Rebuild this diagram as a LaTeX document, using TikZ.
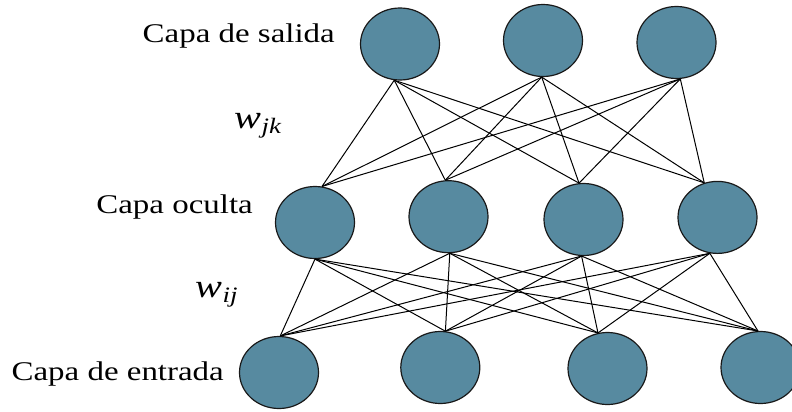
\documentclass[tikz,border=0pt]{standalone}
\usepackage{fontspec}
\setmainfont{Liberation Serif}
\usepackage{graphicx}
\usetikzlibrary{shapes.geometric}
\definecolor{neuroncol}{HTML}{578AA0}
% weight symbol: italic w with a lowered italic index
\newcommand{\wsym}[1]{\scalebox{1.22}[1]{\itshape w\kern0.5pt\raisebox{-5pt}{\fontsize{22}{24}\selectfont #1}}}
\begin{document}
\begin{tikzpicture}[x=1pt,y=-1pt,
  neuron/.style={ellipse, draw=black!90, line width=1.2pt, fill=neuroncol,
                 minimum width=79pt, minimum height=72pt, inner sep=0pt},
  link/.style={draw=black, line width=1pt},
  layerlabel/.style={font=\fontsize{27}{30}\selectfont, inner sep=0pt, anchor=base east},
  weight/.style={font=\fontsize{33}{36}\selectfont, inner sep=0pt, anchor=base west}]
\useasboundingbox (0,0) rectangle (792,412);

% output layer
\node[neuron] (o1) at (400,44) {};
\node[neuron] (o2) at (543,40.5) {};
\node[neuron] (o3) at (676.5,42.5) {};
% hidden layer
\node[neuron] (h1) at (315,222.5) {};
\node[neuron] (h2) at (448.5,216.7) {};
\node[neuron] (h3) at (583.5,219.5) {};
\node[neuron] (h4) at (717.5,217.4) {};
% input layer
\node[neuron] (i1) at (279,372.5) {};
\node[neuron] (i2) at (440.3,367.5) {};
\node[neuron] (i3) at (607.5,368.5) {};
\node[neuron] (i4) at (760.5,367.5) {};

% fully connected weights
\foreach \o/\oa in {o1/261,o2/268,o3/276}
  \foreach \h/\ha in {h1/79,h2/95,h3/97,h4/111}
    \draw[link] (\o.\oa) -- (\h.\ha);
\foreach \h/\ha in {h1/270,h2/272,h3/267,h4/258}
  \foreach \i/\ia in {i1/88,i2/82,i3/105,i4/94}
    \draw[link] (\h.\ha) -- (\i.\ia);

% layer names
\node[layerlabel] (lout) at (335,43) {\scalebox{1.22}[1]{Capa de salida}};
\node[layerlabel] (lhid) at (253,213) {\scalebox{1.22}[1]{Capa oculta}};
\node[layerlabel] (lin) at (224,380) {\scalebox{1.22}[1]{Capa de entrada}};

% weight labels
\node[weight] (wjk) at (234,128) {\wsym{jk}};
\node[weight] (wij) at (195,297) {\wsym{ij}};
\end{tikzpicture}
\end{document}
